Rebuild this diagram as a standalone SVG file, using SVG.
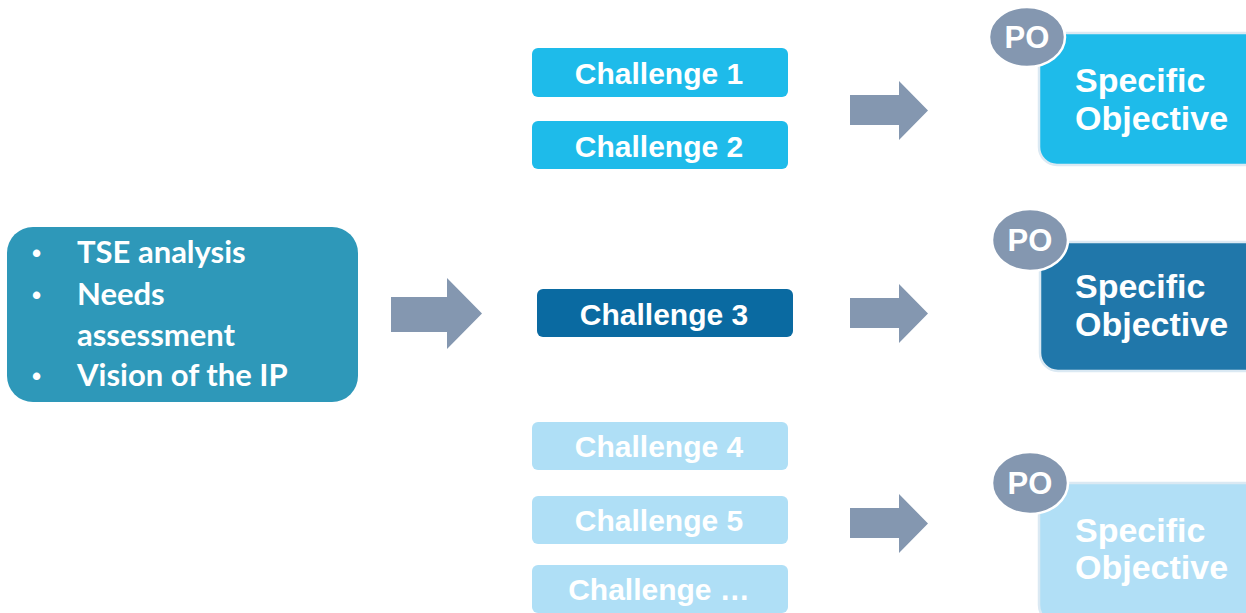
<svg xmlns="http://www.w3.org/2000/svg" width="1246" height="613" viewBox="0 0 1246 613">
<defs>
<style>
.ch{font-family:"Liberation Sans",Arial,sans-serif;font-weight:bold;font-size:30px;fill:#fff;text-anchor:middle}
.so{font-family:"Liberation Sans",Arial,sans-serif;font-weight:bold;font-size:34px;fill:#fff}
.po{font-family:"Liberation Sans",Arial,sans-serif;font-weight:bold;font-size:31px;fill:#fff;text-anchor:middle}
.lt{font-family:Lato,"Open Sans",sans-serif;font-weight:bold;font-size:31px;fill:#fff}
.bu{font-family:"Liberation Sans",Arial,sans-serif;font-weight:bold;font-size:26px;fill:#fff}
.arr{fill:#8497b0}
.ell{fill:#8497b0;stroke:#fff;stroke-width:2.5}
.sob{stroke:#dbe9f3;stroke-width:2.5}
</style>
</defs>
<rect width="1246" height="613" fill="#fff"/>
<g id="source">
<rect x="7" y="227" width="351" height="175" rx="26" fill="#2e98b9"/>
<text class="bu" x="32" y="262">•</text>
<text class="lt" x="77" y="263">TSE analysis</text>
<text class="bu" x="32" y="304">•</text>
<text class="lt" x="77" y="305">Needs</text>
<text class="lt" x="77" y="346">assessment</text>
<text class="bu" x="32" y="385">•</text>
<text class="lt" x="77" y="386">Vision of the IP</text>
</g>
<g id="connectors">
<polygon class="arr" points="391,297 447,297 447,278 482,313.5 447,349 447,332 391,332"/>
<polygon class="arr" points="850,95 899,95 899,81 928,110.5 899,140 899,125 850,125"/>
<polygon class="arr" points="850,298 899,298 899,284 928,313.5 899,343 899,328 850,328"/>
<polygon class="arr" points="850,508 899,508 899,494 928,523.5 899,553 899,538 850,538"/>
</g>
<g id="challenge1"><rect x="532" y="48" width="256" height="49" rx="6" fill="#1ebbea"/><text class="ch" x="659" y="84">Challenge 1</text></g>
<g id="challenge2"><rect x="532" y="121" width="256" height="48" rx="6" fill="#1ebbea"/><text class="ch" x="659" y="157">Challenge 2</text></g>
<g id="challenge3"><rect x="537" y="289" width="256" height="48" rx="6" fill="#0a6aa1"/><text class="ch" x="664" y="325">Challenge 3</text></g>
<g id="challenge4"><rect x="532" y="422" width="256" height="48" rx="6" fill="#afdff6"/><text class="ch" x="659" y="457">Challenge 4</text></g>
<g id="challenge5"><rect x="532" y="496" width="256" height="48" rx="6" fill="#afdff6"/><text class="ch" x="659" y="531">Challenge 5</text></g>
<g id="challenge6"><rect x="532" y="565" width="256" height="48" rx="6" fill="#afdff6"/><text class="ch" x="659" y="600">Challenge …</text></g>
<g id="objective1">
<rect class="sob" x="1039" y="33" width="230" height="132" rx="18" fill="#1ebbea"/>
<text class="so" x="1075" y="92">Specific</text>
<text class="so" x="1075" y="130">Objective</text>
<ellipse class="ell" cx="1027" cy="37" rx="38" ry="30"/>
<text class="po" x="1027" y="48">PO</text>
</g>
<g id="objective2">
<rect class="sob" x="1040" y="242" width="230" height="129" rx="18" fill="#2077aa"/>
<text class="so" x="1075" y="298">Specific</text>
<text class="so" x="1075" y="336">Objective</text>
<ellipse class="ell" cx="1030" cy="240" rx="38" ry="31"/>
<text class="po" x="1030" y="251">PO</text>
</g>
<g id="objective3">
<rect class="sob" x="1039" y="483" width="230" height="140" rx="18" fill="#b1dff6"/>
<text class="so" x="1075" y="542">Specific</text>
<text class="so" x="1075" y="579">Objective</text>
<ellipse class="ell" cx="1030" cy="483" rx="38" ry="31"/>
<text class="po" x="1030" y="494">PO</text>
</g>
</svg>
